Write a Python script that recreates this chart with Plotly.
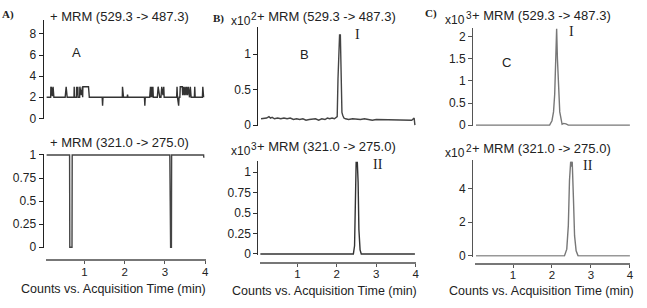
import plotly.graph_objects as go

W, H = 647, 308

# ---------------- data (time in min, intensity in displayed units) ----------------
A_TOP = [(0.06, 2.0), (0.16, 2.0), (0.165, 3.0), (0.18, 2.9), (0.20, 2.1), (0.22, 3.0), (0.24, 2.0),
         (0.52, 2.0), (0.545, 3.0), (0.57, 2.0),
         (0.74, 2.0), (0.745, 3.0), (0.75, 2.0), (0.80, 2.0), (0.805, 3.0), (0.81, 2.3), (0.83, 2.3),
         (0.835, 3.0), (0.84, 2.0), (0.88, 2.0), (0.885, 3.0), (0.92, 2.2), (0.95, 3.0), (0.955, 2.0),
         (0.96, 3.0), (1.10, 3.0), (1.12, 2.0),
         (1.44, 2.0), (1.45, 1.2), (1.46, 2.0),
         (1.94, 2.0), (1.945, 3.0), (1.96, 2.3), (1.97, 2.0),
         (2.06, 2.0), (2.07, 2.25), (2.08, 2.0),
         (2.49, 2.0), (2.50, 1.2), (2.51, 2.0),
         (2.62, 2.0), (2.625, 3.0), (2.635, 2.0), (2.64, 3.0), (2.65, 2.0), (2.655, 3.0), (2.665, 2.0),
         (2.67, 3.0), (2.68, 2.0), (2.685, 3.0), (2.695, 2.0), (2.70, 3.0), (2.71, 2.0),
         (2.81, 2.0), (2.83, 3.0), (2.86, 2.2), (2.87, 2.0), (2.90, 2.0), (2.92, 3.0), (2.95, 2.2),
         (2.97, 3.0), (2.98, 2.0),
         (3.29, 2.0), (3.30, 3.0), (3.31, 2.0), (3.34, 1.2), (3.35, 2.0), (3.37, 2.0), (3.38, 3.0),
         (3.43, 3.0), (3.44, 2.2), (3.46, 3.0), (3.48, 2.2), (3.50, 3.0), (3.52, 2.2), (3.54, 3.0),
         (3.56, 2.2), (3.58, 3.0), (3.61, 2.0), (3.63, 3.0), (3.65, 2.0), (3.73, 2.0), (3.74, 3.0),
         (3.75, 2.0), (3.93, 2.0), (3.94, 3.0), (3.95, 2.0), (3.96, 2.0)]

A_BOT = [(0.06, 1.0), (0.63, 1.0), (0.635, 0.0), (0.69, 0.0), (0.695, 1.0), (3.12, 1.0), (3.13, 0.5),
         (3.14, 0.0), (3.16, 0.0), (3.165, 1.0), (3.96, 1.0), (3.965, 0.97)]

B_TOP = [(0.08, 0.09), (0.15, 0.09), (0.22, 0.10), (0.28, 0.12), (0.32, 0.10), (0.36, 0.11), (0.42, 0.09),
         (0.50, 0.10), (0.58, 0.09), (0.66, 0.10), (0.74, 0.09), (0.82, 0.10), (0.90, 0.08), (0.98, 0.09),
         (1.06, 0.08), (1.14, 0.09), (1.22, 0.07), (1.30, 0.08), (1.38, 0.08), (1.46, 0.09), (1.54, 0.07),
         (1.62, 0.09), (1.70, 0.08), (1.76, 0.10), (1.82, 0.09), (1.88, 0.10), (1.94, 0.09), (1.98, 0.11),
         (2.01, 0.12), (2.03, 0.65), (2.05, 1.20), (2.07, 1.27), (2.09, 1.27), (2.11, 0.62), (2.13, 0.18),
         (2.15, 0.14), (2.18, 0.10), (2.22, 0.09), (2.30, 0.08), (2.40, 0.09), (2.50, 0.08), (2.60, 0.08),
         (2.70, 0.09), (2.80, 0.08), (2.90, 0.07), (3.00, 0.08), (3.10, 0.08), (3.20, 0.07), (3.30, 0.08),
         (3.40, 0.08), (3.50, 0.07), (3.60, 0.08), (3.70, 0.07), (3.80, 0.08), (3.90, 0.07), (3.96, 0.10),
         (3.98, 0.00)]

B_BOT = [(0.05, 0.0), (2.42, 0.0), (2.45, 0.10), (2.47, 0.63), (2.49, 1.12), (2.52, 1.12), (2.54, 0.88),
         (2.56, 0.30), (2.59, 0.05), (2.62, 0.0), (3.98, 0.0)]

C_TOP = [(0.05, 0.0), (1.94, 0.0), (2.00, 0.10), (2.04, 0.30), (2.07, 0.70), (2.09, 1.55), (2.11, 2.18),
         (2.12, 2.18), (2.14, 1.50), (2.17, 0.70), (2.20, 0.30), (2.26, 0.02), (2.30, 0.04), (2.36, 0.03),
         (2.42, 0.0), (4.00, 0.0)]

C_BOT = [(0.05, 0.0), (2.32, 0.0), (2.38, 0.4), (2.42, 1.8), (2.45, 4.5), (2.48, 5.6), (2.50, 5.3),
         (2.52, 5.6), (2.55, 3.5), (2.58, 1.2), (2.62, 0.3), (2.67, 0.0), (4.00, 0.0)]

X_TICKS = [1, 2, 3, 4]
A_TOP_YT = [0, 2, 4, 6, 8]
A_BOT_YT = [0, 0.25, 0.5, 0.75, 1]
A_BOT_YL = ["0", "0.25", "0.5", "0.75", "1"]
B_TOP_YT = [0, 0.5, 1]
B_BOT_YT = [0, 0.25, 0.5, 0.75, 1]
B_BOT_YL = ["0", "0.25", "0.5", "0.75", "1"]
C_TOP_YT = [0, 0.5, 1, 1.5, 2]
C_BOT_YT = [0, 2, 4]

TITLE_TOP = "+ MRM (529.3 -> 487.3)"
TITLE_BOT = "+ MRM (321.0 -> 275.0)"
X_TITLE = "Counts vs. Acquisition Time (min)"

SANS = "Liberation Sans, Arial, sans-serif"
SERIF = "Liberation Serif, Times New Roman, serif"


def px(x):
    return x / W


def py(y):
    return 1 - y / H


# subplot geometry in pixels: x-zero pixel, px/unit, x domain; y-zero pixel, px/unit, y axis-line extent
panels = [
    dict(data=A_TOP, color="#333333", lc="#222222", x0=44.5, xs=40.5, xd=(46, 207), y0=117, ys=11.0,
         yd=(15, 118), yax=43, yt=A_TOP_YT, yl=None, xline=None),
    dict(data=A_BOT, color="#444444", lc="#222222", x0=44.5, xs=40.5, xd=(46, 207), y0=251, ys=96.0,
         yd=(154, 252), yax=43, yt=A_BOT_YT, yl=A_BOT_YL, xline=264),
    dict(data=B_TOP, color="#444444", lc="#222222", x0=259.5, xs=39.7, xd=(262, 419), y0=124, ys=74.0,
         yd=(22, 125), yax=259, yt=B_TOP_YT, yl=None, xline=None),
    dict(data=B_BOT, color="#333333", lc="#333333", x0=259.5, xs=39.7, xd=(262, 419), y0=258, ys=85.0,
         yd=(161, 259), yax=259, yt=B_BOT_YT, yl=B_BOT_YL, xline=267),
    dict(data=C_TOP, color="#777777", lc="#555555", x0=477, xs=39.2, xd=(478, 634), y0=124, ys=46.0,
         yd=(23, 125), yax=475, yt=C_TOP_YT, yl=None, xline=None),
    dict(data=C_BOT, color="#777777", lc="#555555", x0=477, xs=39.2, xd=(478, 634), y0=260, ys=17.5,
         yd=(160, 261), yax=475, yt=C_BOT_YT, yl=None, xline=268),
]

fig = go.Figure()
layout = {}
for i, p in enumerate(panels, start=1):
    xn = "x" if i == 1 else f"x{i}"
    yn = "y" if i == 1 else f"y{i}"
    xk = "xaxis" if i == 1 else f"xaxis{i}"
    yk = "yaxis" if i == 1 else f"yaxis{i}"
    t = [d[0] for d in p["data"]]
    v = [d[1] for d in p["data"]]
    fig.add_trace(go.Scatter(x=t, y=v, mode="lines", xaxis=xn, yaxis=yn,
                             line=dict(color=p["color"], width=1.4), showlegend=False,
                             hoverinfo="skip"))
    xr = [(p["xd"][0] - p["x0"]) / p["xs"], (p["xd"][1] - p["x0"]) / p["xs"]]
    yr = [(p["y0"] - p["yd"][1]) / p["ys"], (p["y0"] - p["yd"][0]) / p["ys"]]
    xa = dict(domain=[px(p["xd"][0]), px(p["xd"][1])], range=xr, showgrid=False, zeroline=False,
              fixedrange=True)
    if p["xline"] is None:
        xa.update(visible=False, anchor=yn)
    else:
        xa.update(anchor="free", position=py(p["xline"]), showline=True, linecolor="#777777",
                  linewidth=2, ticks="outside", ticklen=3, tickwidth=1, tickcolor="#555555",
                  tickvals=X_TICKS, ticktext=[str(k) for k in X_TICKS], ticklabelstandoff=-2,
                  tickfont=dict(family=SANS, size=11.5, color="#222222"))
    ya = dict(domain=[py(p["yd"][1]), py(p["yd"][0])], range=yr, showgrid=False, zeroline=False,
              anchor="free", position=px(p["yax"]), showline=True, linecolor=p["lc"], linewidth=1.2,
              ticks="outside", ticklen=4, tickwidth=1, tickcolor=p["lc"],
              tickvals=p["yt"], ticktext=p["yl"] if p["yl"] else [str(k) for k in p["yt"]],
              tickfont=dict(family=SANS, size=12, color="#222222"), fixedrange=True)
    layout[xk] = xa
    layout[yk] = ya


def ann(text, x, y, size=13, family=SANS, xanchor="left", color="#222222"):
    return dict(text=text, x=px(x), y=py(y), xref="paper", yref="paper", showarrow=False,
                xanchor=xanchor, yanchor="middle", font=dict(family=family, size=size, color=color))


annotations = [
    ann("<b>A)</b>", 0, 9, size=11, family=SERIF),
    ann("<b>B)</b>", 212, 13, size=11, family=SERIF),
    ann("<b>C)</b>", 426, 8, size=11, family=SERIF),
    # panel A
    ann(TITLE_TOP, 120, 11, xanchor="center"),
    ann(TITLE_BOT, 120, 142, xanchor="center"),
    ann("A", 70, 48),
    ann(X_TITLE, 114, 294, size=12.5, xanchor="center"),
    # panel B
    ann("x10", 230, 16, size=12),
    ann("2", 251, 11, size=10),
    ann(TITLE_TOP, 257, 11),
    ann("x10", 230, 151, size=12),
    ann("3", 251, 146, size=10),
    ann(TITLE_BOT, 257, 146),
    ann("B", 300, 50),
    ann("I", 355, 30, size=14, family=SERIF),
    ann("II", 373, 165, size=14, family=SERIF),
    ann(X_TITLE, 327, 297, size=12.5, xanchor="center"),
    # panel C
    ann("x10", 446, 15, size=12),
    ann("3", 467, 10, size=10),
    ann(TITLE_TOP, 473, 10),
    ann("x10", 446, 153, size=12),
    ann("2", 467, 148, size=10),
    ann(TITLE_BOT, 473, 148),
    ann("C", 503, 59),
    ann("I", 571, 27, size=14, family=SERIF),
    ann("II", 585, 166, size=14, family=SERIF),
    ann(X_TITLE, 545, 297, size=12.5, xanchor="center"),
]

fig.update_layout(width=W, height=H, margin=dict(l=0, r=0, t=0, b=0), paper_bgcolor="white",
                  plot_bgcolor="white", annotations=annotations, showlegend=False, **layout)

fig.write_html("out.html", config={"displayModeBar": False},
               post_script="document.body.style.margin='0';document.body.style.overflow='hidden';")
